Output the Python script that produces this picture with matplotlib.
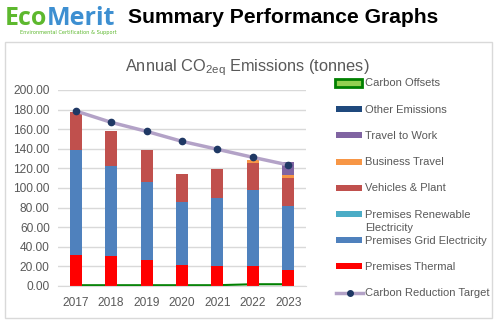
import matplotlib
matplotlib.use("Agg")
import matplotlib.pyplot as plt
import numpy as np
from matplotlib.lines import Line2D
from matplotlib.patches import Rectangle

years = ["2017", "2018", "2019", "2020", "2021", "2022", "2023"]
premises_thermal = [31.3, 30.6, 26.5, 21.4, 20.4, 20.4, 16.3]
premises_grid = [107.5, 91.8, 79.5, 64.3, 69.4, 77.6, 65.3]
premises_renewable = [0, 0, 0, 0, 0, 0, 0]
vehicles_plant = [38.7, 35.8, 32.8, 28.6, 29.6, 27.8, 28.9]
business_travel = [0, 0, 0, 0, 0, 2.8, 2.8]
travel_to_work = [0, 0, 0, 0, 0, 0, 12.9]
other_emissions = [0, 0, 0, 0, 0, 0, 0]
carbon_offsets = [0.8, 0.8, 0.8, 0.8, 0.8, 1.8, 1.8]
reduction_target = [178.6, 167.0, 157.8, 147.6, 139.5, 131.3, 123.5]

W, H = 497, 324
fig = plt.figure(figsize=(W / 100, H / 100), dpi=100)

def fx(px):
    return px / W

def fy(py):
    return 1 - py / H

# header
fig.text(fx(5), fy(25), "Eco", color="#5DB82E", fontsize=18, fontweight="bold",
         family="Open Sans", va="baseline")
fig.text(fx(47), fy(25), "Merit", color="#3D8FD1", fontsize=18, fontweight="bold",
         family="Open Sans", va="baseline")
fig.text(fx(20), fy(34), "Environmental Certification & Support", color="#5DB82E",
         fontsize=3.6, va="baseline")
fig.text(fx(128), fy(23), "Summary Performance Graphs", color="black", fontsize=15.2,
         fontweight="bold", family="Liberation Sans", va="baseline")

# chart border
fig.patches.append(Rectangle((fx(5), fy(318)), fx(487), (318 - 42) / H, transform=fig.transFigure,
                             fill=False, edgecolor="#D9D9D9", linewidth=1))

fig.text(fx(247), fy(71), r"Annual CO$_{\mathregular{2eq}}$ Emissions (tonnes)", color="#595959",
         fontsize=11.8, ha="center", va="baseline", family="Liberation Sans")

ax = fig.add_axes([fx(58), fy(286), fx(306 - 58), (286 - 90) / H])
x = np.arange(len(years))
bw = 0.34
stack = [
    (premises_thermal, "#FF0000"),
    (premises_grid, "#4F81BD"),
    (premises_renewable, "#4BACC6"),
    (vehicles_plant, "#C0504D"),
    (business_travel, "#F79646"),
    (travel_to_work, "#8064A2"),
    (other_emissions, "#1F497D"),
]
bottom = np.zeros(len(years))
for vals, col in stack:
    ax.bar(x, vals, bw, bottom=bottom, color=col, zorder=2)
    bottom += np.array(vals)

ax.plot(x, carbon_offsets, color="#008000", linewidth=1.5, zorder=1.5)
ax.plot(x, reduction_target, color="#B3A2C7", linewidth=2.5, zorder=3,
        marker="o", markersize=4.5, markerfacecolor="#1F3864", markeredgecolor="#1F3864")

ax.set_xlim(-0.5, len(years) - 0.5)
ax.set_ylim(0, 200)
ax.set_yticks(np.arange(0, 201, 20))
ax.set_yticklabels([f"{v:.2f}" for v in np.arange(0, 201, 20)])
ax.set_xticks(x)
ax.set_xticklabels(years)
ax.grid(axis="y", color="#D9D9D9", linewidth=1, zorder=0)
ax.set_axisbelow(True)
for s in ["top", "right", "left"]:
    ax.spines[s].set_visible(False)
ax.spines["bottom"].set_color("#D9D9D9")
ax.tick_params(length=0, labelsize=8.6, colors="#595959", pad=6)
ax.tick_params(axis="x", pad=8)
for t in ax.get_yticklabels() + ax.get_xticklabels():
    t.set_family("Liberation Sans")

# legend
legend_items = [
    ("Carbon Offsets", "offset"),
    ("Other Emissions", "#1F497D"),
    ("Travel to Work", "#8064A2"),
    ("Business Travel", "#F79646"),
    ("Vehicles & Plant", "#C0504D"),
    ("Premises Renewable\nElectricity", "#4BACC6"),
    ("Premises Grid Electricity", "#4F81BD"),
    ("Premises Thermal", "#FF0000"),
    ("Carbon Reduction Target", "target"),
]
for i, (lab, col) in enumerate(legend_items):
    yy = 83 + i * 26.2
    if col == "offset":
        fig.patches.append(Rectangle((fx(335), fy(yy + 4)), fx(27), 8 / H, transform=fig.transFigure,
                                     facecolor="#92D050", edgecolor="#008000", linewidth=2))
    elif col == "target":
        fig.lines.append(Line2D([fx(336), fx(363)], [fy(yy), fy(yy)], transform=fig.transFigure,
                                color="#B3A2C7", linewidth=2.5))
        fig.lines.append(Line2D([fx(349.5)], [fy(yy)], transform=fig.transFigure, marker="o",
                                markersize=4, color="#1F3864"))
    else:
        fig.patches.append(Rectangle((fx(336), fy(yy + 3)), fx(26), 6 / H, transform=fig.transFigure,
                                     facecolor=col, edgecolor="none"))
    fig.text(fx(365), fy(yy - 4.5), lab, color="#595959", fontsize=8, va="top",
             family="Liberation Sans", linespacing=1.45)

fig.savefig("out.png", dpi=100)
